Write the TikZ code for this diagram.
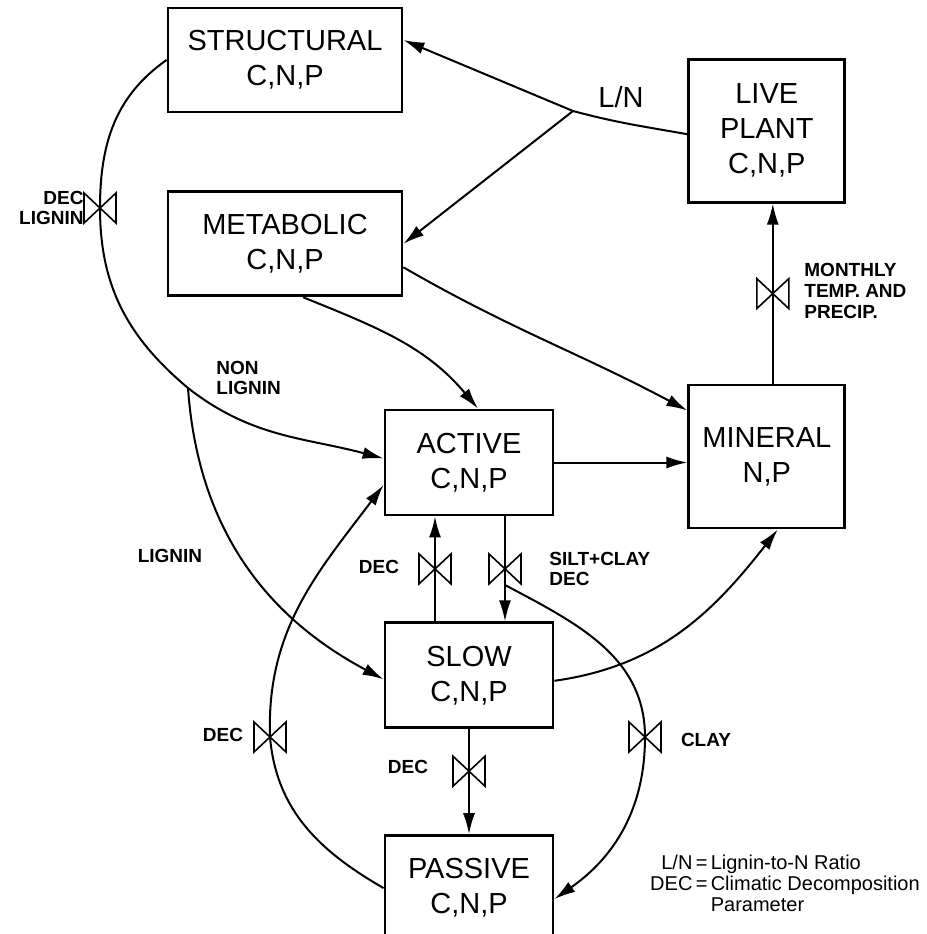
\documentclass[tikz,border=0pt]{standalone}
\usepackage{fontspec}
\setmainfont{Liberation Sans}
\usepackage{tikz}
\usetikzlibrary{arrows.meta,positioning,calc}

\begin{document}
\begin{tikzpicture}[x=0.5pt,y=0.5pt,
    pool/.style={rectangle,draw,line width=1.4pt,align=center,
                 minimum width=117pt,minimum height=52pt,inner sep=0pt,
                 font=\fontsize{14.5}{17.5}\selectfont},
    smallpool/.style={pool,minimum width=84pt,minimum height=52.5pt},
    tallpool/.style={pool,minimum width=78pt,minimum height=71.5pt},
    line/.style={draw,line width=1pt,-{Latex[length=10.5pt,width=6pt]}},
    flowline/.style={draw,line width=1pt},
    lbl/.style={font=\fontsize{9.5}{10.3}\selectfont\bfseries,inner sep=0pt,align=left},
    valve/.pic={\draw[line width=0.8pt] (-16,-15) -- (-16,15) -- (16,-15) -- (16,15) -- cycle;}]
    \useasboundingbox (0,0) rectangle (927,-934);
    % pools
    \node[pool](struct) at (285,-60){STRUCTURAL\\C,N,P};
    \node[pool,below=38.5pt of struct](metab){METABOLIC\\C,N,P};
    \node[smallpool](active) at (469,-462.5){ACTIVE\\C,N,P};
    \node[smallpool,below=52.5pt of active](slow){SLOW\\C,N,P};
    \node[smallpool,below=52.5pt of slow](passive){PASSIVE\\C,N,P};
    \node[tallpool,right=66.5pt of active,yshift=3pt](mineral){MINERAL\\N,P};
    \node[tallpool,above=90pt of mineral](plant){LIVE\\PLANT\\C,N,P};
    % split points and valves
    \coordinate(jn) at (573,-111);
    \coordinate(nl) at (188,-388);
    \coordinate(sc) at (505,-585);
    \coordinate(vlig) at (100,-208);
    \coordinate(vclay) at (645,-737);
    \coordinate(vdec) at (270,-737);
    % litter input
    \draw[flowline]([yshift=-1.75pt]plant.west) to[out=170,in=-15] (jn);
    \draw[line](jn)--([yshift=10pt]struct.east);
    \draw[line](jn)--(metab.east);
    \draw[line](struct.west) to[out=-145,in=90] (vlig) to[out=-90,in=140] (nl)
        to[out=-38,in=165] ([yshift=2pt]active.west);
    \draw[line](nl) to[out=-86,in=152] ([yshift=-2pt]slow.west);
    \draw[line]([xshift=9pt]metab.south) to[out=-22,in=130] ([xshift=4.5pt]active.north);
    \draw[line]([yshift=-11.75pt]metab.east) to[out=-30,in=152] ([yshift=23pt]mineral.west);
    % soil pools
    \draw[line](active.east)--(active.east -| mineral.west);
    \draw[line]([xshift=3pt]mineral.north)-- coordinate(vmt) ([xshift=3pt]plant.south);
    \draw[line]([xshift=-17pt]slow.north)-- coordinate(vup) ([xshift=-17pt]active.south);
    \draw[line]([xshift=18pt]active.south)-- coordinate(vdn) ([xshift=18pt]slow.north);
    \draw[line](sc) to[out=-28,in=90] (vclay) to[out=-90,in=35] ([yshift=-5.5pt]passive.east);
    \draw[line]([yshift=-2.75pt]slow.east) to[out=8,in=-128] ([xshift=5.5pt]mineral.south);
    \draw[line](slow.south)-- coordinate[pos=0.4](vsp) (passive.north);
    \draw[line](passive.west) to[out=150,in=-85] (vdec) to[out=92,in=-127] ([yshift=-11.25pt]active.west);
    \foreach \v in {vlig,vmt,vup,vdn,vclay,vsp,vdec}
        \pic at (\v) {valve};
    % labels
    \node[font=\fontsize{14.5}{17.5}\selectfont](ln) at (621,-97){L/N};
    \node[lbl,anchor=east,align=right](declig) at (84,-208){DEC\\LIGNIN};
    \node[lbl,anchor=west](nonlig) at (216,-378){NON\\LIGNIN};
    \node[lbl](lig) at (170,-556){LIGNIN};
    \node[lbl,anchor=west](montemp) at (804,-291){MONTHLY\\TEMP. AND\\PRECIP.};
    \node[lbl](decup) at (379,-567){DEC};
    \node[lbl,anchor=west](siltclay) at (549,-569){SILT+CLAY\\DEC};
    \node[lbl](clay) at (706,-740){CLAY};
    \node[lbl](decsp) at (408,-767){DEC};
    \node[lbl](decps) at (223,-735){DEC};
    \node[font=\fontsize{10}{10.5}\selectfont,inner sep=0pt](legend) at (785,-886){%
        \begin{tabular}{@{}r@{\,}c@{\,}l@{}}
        L/N & = & Lignin-to-N Ratio\\
        DEC & = & Climatic Decomposition\\
            &   & Parameter
        \end{tabular}};
\end{tikzpicture}
\end{document}
